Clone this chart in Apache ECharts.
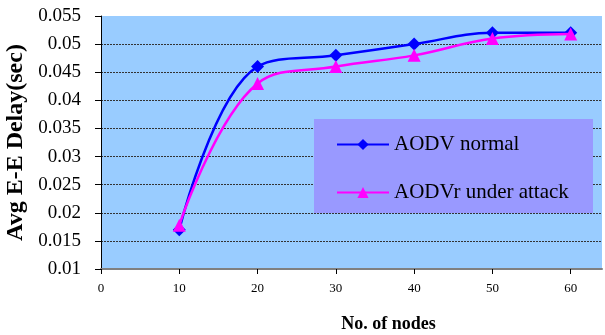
<!DOCTYPE html>
<html>
<head>
<meta charset="utf-8">
<script src="https://cdn.jsdelivr.net/npm/echarts@6/dist/echarts.min.js"></script>
<style>
  html, body { margin: 0; padding: 0; background: #fff; }
  #chart { width: 605px; height: 335px; }
</style>
</head>
<body>
<div id="chart"></div>
<script>
// values
const nodes = [10, 20, 30, 40, 50, 60];
const aodvNormal = [0.017, 0.046, 0.048, 0.050, 0.052, 0.052];
const aodvAttack = [0.0178, 0.043, 0.046, 0.048, 0.051, 0.0518];
const seriesNames = ["AODV normal", "AODVr under attack"];

const serif = "Liberation Serif";
const chart = echarts.init(document.getElementById("chart"));

chart.setOption({
  animation: false,
  grid: {
    left: 101, right: 3, top: 16, bottom: 66,
    containLabel: false, outerBoundsMode: "none",
    show: true, backgroundColor: "#99CCFF", borderWidth: 0,
  },
  graphic: [
    {
      type: "rect", z: 1,
      shape: { x: 314, y: 119, width: 279, height: 94 },
      style: { fill: "#9999FF" },
    },
  ],
  legend: {
    orient: "vertical",
    left: 336, top: 134, padding: 0,
    itemWidth: 52, itemHeight: 14, itemGap: 27,
    textStyle: { fontFamily: serif, fontSize: 21, color: "#000" },
    data: seriesNames,
  },
  xAxis: {
    type: "value", min: 0, max: 64, interval: 10,
    name: "No. of nodes", nameLocation: "middle", nameGap: 46,
    nameTextStyle: { fontFamily: serif, fontSize: 18, fontWeight: "bold", color: "#000", padding: [0, 0, 0, 74] },
    axisLine: { show: true, lineStyle: { color: "#808080", width: 2 } },
    axisTick: { show: true, length: 5, lineStyle: { color: "#000" } },
    axisLabel: {
      fontFamily: serif, fontSize: 13, color: "#000", margin: 13, showMaxLabel: false,
      formatter: (v) => (v % 10 === 0 ? String(v) : ""),
    },
    splitLine: { show: false },
  },
  yAxis: {
    type: "value", min: 0.01, max: 0.055, interval: 0.005,
    name: "Avg E-E Delay(sec)", nameLocation: "middle", nameGap: 67,
    nameTextStyle: { fontFamily: serif, fontSize: 24, fontWeight: "bold", color: "#000" },
    axisLine: { show: true, lineStyle: { color: "#000", width: 1 } },
    axisTick: { show: true, length: 6, lineStyle: { color: "#000" } },
    axisLabel: { fontFamily: serif, fontSize: 19, color: "#000", margin: 20 },
    splitLine: {
      show: true, showMinLine: false, showMaxLine: false,
      lineStyle: { color: "#333", type: [2, 1], width: 1 },
    },
  },
  series: [
    {
      name: seriesNames[0],
      type: "line",
      smooth: 0.4,
      data: nodes.map((n, i) => [n, aodvNormal[i]]),
      symbol: "diamond", symbolSize: 13,
      lineStyle: { color: "#0000FF", width: 2.5 },
      itemStyle: { color: "#0000FF" },
      z: 3,
    },
    {
      name: seriesNames[1],
      type: "line",
      smooth: 0.4,
      data: nodes.map((n, i) => [n, aodvAttack[i]]),
      symbol: "triangle", symbolSize: 13,
      lineStyle: { color: "#FF00FF", width: 2.5 },
      itemStyle: { color: "#FF00FF" },
      z: 4,
    },
  ],
});
</script>
</body>
</html>
